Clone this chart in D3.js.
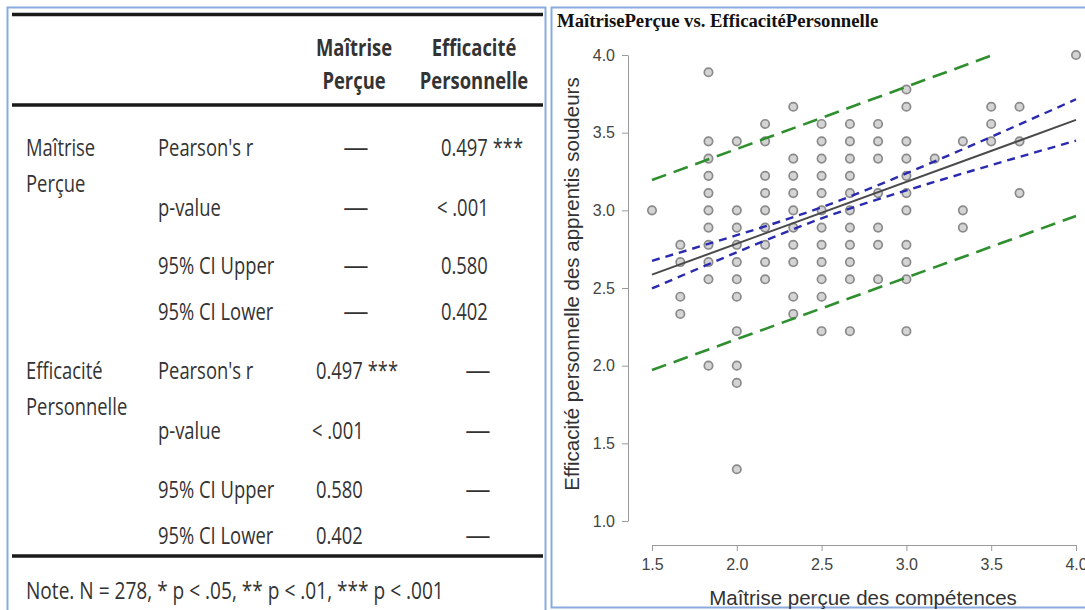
<!DOCTYPE html>
<html>
<head>
<meta charset="utf-8">
<script src="https://cdn.jsdelivr.net/npm/d3@7"></script>
<style>
body { margin: 0; background: #fff; }
</style>
</head>
<body>
<div id="chart"></div>
<script>
var width = 1085,
    height = 610;

// ---- table data
var colHeads = [['Maîtrise', 'Perçue'], ['Efficacité', 'Personnelle']];
var rowHeads = [['Maîtrise', 'Perçue'], ['Efficacité', 'Personnelle']];
var statNames = ["Pearson's r", 'p-value', '95% CI Upper', '95% CI Lower'];
var statValues = ['0.497 ***', '< .001', '0.580', '0.402'];
var noteText = 'Note. N = 278, * p < .05, ** p < .01, *** p < .001';

// ---- scatter data (x in sixths, y in ninths)
var xLevels = [1.5, 1.667, 1.833, 2.0, 2.167, 2.333, 2.5, 2.667, 2.833, 3.0, 3.167, 3.333, 3.5, 3.667, 4.0];
var yByLevel = [
    [3.0],
    [2.778, 2.667, 2.444, 2.333],
    [3.889, 3.444, 3.333, 3.222, 3.111, 3.0, 2.889, 2.778, 2.667, 2.556, 2.0],
    [3.444, 3.0, 2.889, 2.778, 2.667, 2.556, 2.444, 2.222, 2.0, 1.889, 1.333],
    [3.556, 3.444, 3.222, 3.111, 3.0, 2.889, 2.778, 2.667, 2.556],
    [3.667, 3.333, 3.222, 3.111, 3.0, 2.889, 2.778, 2.667, 2.444, 2.333],
    [3.556, 3.444, 3.333, 3.222, 3.111, 3.0, 2.889, 2.778, 2.667, 2.556, 2.444, 2.222],
    [3.556, 3.444, 3.333, 3.222, 3.111, 3.0, 2.889, 2.778, 2.667, 2.556, 2.222],
    [3.556, 3.444, 3.333, 3.111, 2.889, 2.778, 2.556],
    [3.778, 3.667, 3.444, 3.333, 3.222, 3.111, 3.0, 2.778, 2.667, 2.556, 2.222],
    [3.333],
    [3.444, 3.0, 2.889],
    [3.667, 3.556, 3.444],
    [3.667, 3.444, 3.111],
    [4.0]
];

// regression line, confidence band, prediction band
var fitLine = [[1.5, 2.586], [4.0, 3.582]];
var ciUpper = [[1.5, 2.675], [2.0, 2.840], [2.5, 3.020], [3.0, 3.238], [3.5, 3.473], [4.0, 3.715]];
var ciLower = [[1.5, 2.497], [2.0, 2.730], [2.5, 2.948], [3.0, 3.128], [3.5, 3.291], [4.0, 3.449]];
var piUpper = [[1.5, 3.195], [3.51, 4.0]];
var piLower = [[1.5, 1.972], [4.0, 2.964]];

var xTicks = [1.5, 2.0, 2.5, 3.0, 3.5, 4.0];
var yTicks = [1.0, 1.5, 2.0, 2.5, 3.0, 3.5, 4.0];

var title = 'MaîtrisePerçue vs. EfficacitéPersonnelle';
var xTitle = 'Maîtrise perçue des compétences';
var yTitle = 'Efficacité personnelle des apprentis soudeurs';

var svg = d3.select('#chart').append('svg')
    .attr('width', width)
    .attr('height', height)
    .style('display', 'block');

svg.append('rect').attr('width', width).attr('height', height).attr('fill', '#fff');

// panel frames
svg.append('rect')
    .attr('x', 7.5).attr('y', 7.5).attr('width', 538).attr('height', 620)
    .attr('fill', 'none').attr('stroke', '#8aabdf').attr('stroke-width', 2);
svg.append('rect')
    .attr('x', 551.5).attr('y', 7.5).attr('width', 560).attr('height', 600)
    .attr('fill', 'none').attr('stroke', '#8aabdf').attr('stroke-width', 2);

// ================= table
var tbl = svg.append('g')
    .style('font-family', '"Open Sans", sans-serif')
    .style('font-size', '23px')
    .attr('fill', '#333');

function label(g, txt, x, y, anchor, bold, sx) {
    g.append('text')
        .attr('transform', 'translate(' + x + ',' + y + ') scale(' + (sx || 0.8) + ',1)')
        .attr('text-anchor', anchor || 'start')
        .style('font-weight', bold ? 700 : 400)
        .text(txt);
}

[14.5, 105, 556].forEach(function(y) {
    tbl.append('line')
        .attr('x1', 12).attr('x2', 543).attr('y1', y).attr('y2', y)
        .attr('stroke', '#1a1a1a').attr('stroke-width', 3.5);
});

var colCx = [354, 474];      // header centres
var colX = [316, 441];       // value start
var dashCx = [356, 478];
colHeads.forEach(function(h, j) {
    label(tbl, h[0], colCx[j], 56, 'middle', true);
    label(tbl, h[1], colCx[j], 89, 'middle', true);
});

var blockY = [[156, 216, 274, 320], [379, 439, 498, 544]];
rowHeads.forEach(function(h, i) {
    label(tbl, h[0], 26, blockY[i][0]);
    label(tbl, h[1], 26, blockY[i][0] + 36);
    statNames.forEach(function(s, k) {
        var y = blockY[i][k];
        label(tbl, s, 158, y);
        colHeads.forEach(function(c, j) {
            if (i === j) label(tbl, '—', dashCx[j], y, 'middle', false, 1.1);
            else label(tbl, statValues[k], colX[j] - (k === 1 ? 4 : 0), y);
        });
    });
});
label(tbl, noteText, 26, 599, 'start', false, 0.83);

// ================= scatter
var x = d3.scaleLinear().domain([1.5, 4.0]).range([652, 1076]);
var y = d3.scaleLinear().domain([1.0, 4.0]).range([521, 55]);

svg.append('text')
    .attr('x', 557).attr('y', 27)
    .style('font-family', '"Liberation Serif", "Times New Roman", serif')
    .style('font-weight', 700)
    .style('font-size', '18.7px')
    .attr('fill', '#111')
    .text(title);

var xAxis = svg.append('g')
    .attr('transform', 'translate(0,545)')
    .call(d3.axisBottom(x).tickValues(xTicks).tickFormat(d3.format('.1f'))
        .tickSize(6).tickSizeOuter(0).tickPadding(8));
var yAxis = svg.append('g')
    .attr('transform', 'translate(628,0)')
    .call(d3.axisLeft(y).tickValues(yTicks).tickFormat(d3.format('.1f'))
        .tickSize(6).tickSizeOuter(0).tickPadding(7));
[xAxis, yAxis].forEach(function(a) {
    a.selectAll('path, line').attr('stroke', '#9a9a9a');
    a.selectAll('text')
        .attr('fill', '#444')
        .style('font-family', '"Liberation Sans", Arial, sans-serif')
        .style('font-size', '16px');
});

svg.append('text')
    .attr('x', 863).attr('y', 605)
    .attr('text-anchor', 'middle')
    .style('font-family', '"Liberation Sans", Arial, sans-serif')
    .style('font-size', '20.5px')
    .attr('fill', '#333')
    .text(xTitle);
svg.append('text')
    .attr('transform', 'translate(579,284) rotate(-90)')
    .attr('text-anchor', 'middle')
    .style('font-family', '"Liberation Sans", Arial, sans-serif')
    .style('font-size', '20.5px')
    .attr('fill', '#333')
    .text(yTitle);

var points = [];
xLevels.forEach(function(xv, i) {
    yByLevel[i].forEach(function(yv) { points.push([xv, yv]); });
});

svg.append('g').selectAll('circle')
    .data(points)
  .enter().append('circle')
    .attr('cx', function(d) { return x(d[0]); })
    .attr('cy', function(d) { return y(d[1]); })
    .attr('r', 4.2)
    .attr('fill', '#d4d4d4')
    .attr('stroke', '#8a8a8a')
    .attr('stroke-width', 1.7);

var line = d3.line()
    .x(function(d) { return x(d[0]); })
    .y(function(d) { return y(d[1]); })
    .curve(d3.curveNatural);

function drawLine(data, color, w, dash) {
    svg.append('path')
        .datum(data)
        .attr('d', line)
        .attr('fill', 'none')
        .attr('stroke', color)
        .attr('stroke-width', w)
        .attr('stroke-dasharray', dash);
}

drawLine(piUpper, '#2f8f2f', 2.6, '15,8');
drawLine(piLower, '#2f8f2f', 2.6, '15,8');
drawLine(ciUpper, '#2a2ab0', 2.4, '8,6');
drawLine(ciLower, '#2a2ab0', 2.4, '8,6');
drawLine(fitLine, '#4a4a4a', 2, null);
</script>
</body>
</html>
